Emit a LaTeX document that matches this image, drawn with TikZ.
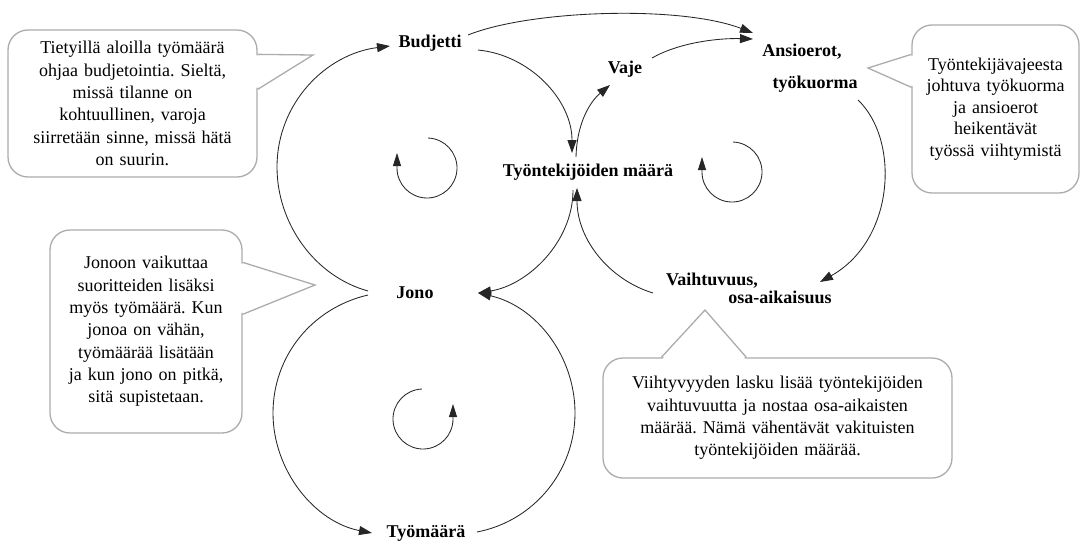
\documentclass[tikz,border=0pt]{standalone}
\usepackage{fontspec}
\setmainfont{Liberation Serif}
\usetikzlibrary{arrows.meta,calc}
\frenchspacing
\begin{document}
\begin{tikzpicture}[x=1pt,y=-1pt,
  lbl/.style={font=\fontsize{18}{20}\selectfont\bfseries, inner sep=0pt},
  note/.style={draw=gray!65, line width=1.3pt, fill=white, rounded corners=20pt,
    inner sep=0pt, align=center, font=\fontsize{18}{22.3}\selectfont},
  ptr/.style={draw=gray!65, line width=1.3pt, line join=miter},
  link/.style={line width=0.85pt, draw=black!85, -{Triangle[length=13pt,width=9pt]}},
  turn/.style={line width=0.85pt, draw=black!85, -{Triangle[length=13pt,width=8pt]}},
]
\useasboundingbox (0,0) rectangle (1081,543);

% variables
\node[lbl] (bud)   at (430,43)  {Budjetti};
\node[lbl] (vaje)  at (625,69)  {Vaje};
\node[lbl] (ans1)  at (802,52)  {Ansioerot,};
\node[lbl] (ans2)  at (815,84)  {työkuorma};
\node[lbl] (tyon)  at (588,172) {Työntekijöiden määrä};
\node[lbl] (jono)  at (415,293) {Jono};
\node[lbl] (vaih1) at (712,281) {Vaihtuvuus,};
\node[lbl] (vaih2) at (780,297) {osa-aikaisuus};
\node[lbl] (tyom)  at (426,533) {Työmäärä};

% left loop
\draw[link] ($(jono)+(-47,-2)$) .. controls (314,276) and (277,223) .. (277,167)
            .. controls (277,103) and (326,54) .. ($(bud)+(-40,3)$);
\draw[link] ($(bud)+(48,7)$) .. controls (530,55) and (572,100) .. ($(tyon)+(-16,-19)$);
\draw[link] ($(tyon)+(-15,18)$) .. controls (573,242) and (528,285) .. ($(jono)+(63,0)$);

% lower loop
\draw[link] ($(jono)+(-47,2)$) .. controls (312,308) and (273,356) .. (273,413)
            .. controls (273,471) and (315,522) .. ($(tyom)+(-54,0)$);
\draw[link] ($(tyom)+(51,-1)$) .. controls (534,521) and (575,471) .. (575,413)
            .. controls (575,356) and (536,306) .. ($(jono)+(63,0)$);

% right loop
\draw[link] ($(bud)+(38,-8)$) .. controls (530,10) and (680,5) .. ($(ans1)+(-49,-19)$);
\draw[link] ($(tyon)+(-12,-15)$) .. controls (577,120) and (592,100) .. ($(vaje)+(-15,16)$);
\draw[link] ($(vaje)+(27,-11)$) .. controls (680,42) and (720,38) .. ($(ans1)+(-49,-13)$);
\draw[link] ($(ans2)+(43,16)$) .. controls (900,140) and (895,240) .. ($(vaih2)+(40,-15)$);
\draw[link] ($(vaih1)+(-59,12)$) .. controls (610,280) and (577,240) .. ($(tyon)+(-11,16)$);

% loop direction marks
\draw[turn] (427,168) ++(272:30) arc[start angle=272, end angle=540, radius=30] -- ++(0,-15);
\draw[turn] (732,172) ++(272:30) arc[start angle=272, end angle=540, radius=30] -- ++(0,-15);
\draw[turn] (423,419) ++(268:30) arc[start angle=268, end angle=0, radius=30] -- ++(0,-15);

% notes
\node[note, minimum width=249pt, minimum height=147pt, text width=240pt] (ntl) at (132.5,103.5)
  {Tietyillä aloilla työmäärä\\ohjaa budjetointia. Sieltä,\\missä tilanne on\\kohtuullinen, varoja\\siirretään sinne, missä hätä\\on suurin.};
\fill[white] ($(ntl.north east)+(-2,26)$) -- (313,55) -- ($(ntl.north east)+(-2,59)$) -- cycle;
\draw[ptr] ($(ntl.north east)+(0,25)$) -- (313,55) -- ($(ntl.north east)+(0,60)$);

\node[note, minimum width=192pt, minimum height=203pt, text width=185pt] (nml) at (146,331.5)
  {Jonoon vaikuttaa\\suoritteiden lisäksi\\myös työmäärä. Kun\\jonoa on vähän,\\työmäärää lisätään\\ja kun jono on pitkä,\\sitä supistetaan.};
\fill[white] ($(nml.north east)+(-2,34)$) -- (315,285) -- ($(nml.north east)+(-2,84)$) -- cycle;
\draw[ptr] ($(nml.north east)+(0,33)$) -- (315,285) -- ($(nml.north east)+(0,85)$);

\node[note, minimum width=167pt, minimum height=168pt, text width=160pt,
      font=\fontsize{18}{21.5}\selectfont] (nrt) at (995.5,109)
  {Työntekijävajeesta\\johtuva työkuorma\\ja ansioerot\\heikentävät\\työssä viihtymistä};
\fill[white] ($(nrt.north west)+(2,31)$) -- (868,68) -- ($(nrt.north west)+(2,62)$) -- cycle;
\draw[ptr] ($(nrt.north west)+(0,30)$) -- (868,68) -- ($(nrt.north west)+(0,63)$);

\node[note, minimum width=349pt, minimum height=120pt, text width=340pt] (nbt) at (777.5,418)
  {Viihtyvyyden lasku lisää työntekijöiden\\vaihtuvuutta ja nostaa osa-aikaisten\\määrää. Nämä vähentävät vakituisten\\työntekijöiden määrää.};
\fill[white] ($(nbt.north west)+(60,2)$) -- (705,310) -- ($(nbt.north west)+(143,2)$) -- cycle;
\draw[ptr] ($(nbt.north west)+(59,0)$) -- (705,310) -- ($(nbt.north west)+(144,0)$);
\end{tikzpicture}
\end{document}
